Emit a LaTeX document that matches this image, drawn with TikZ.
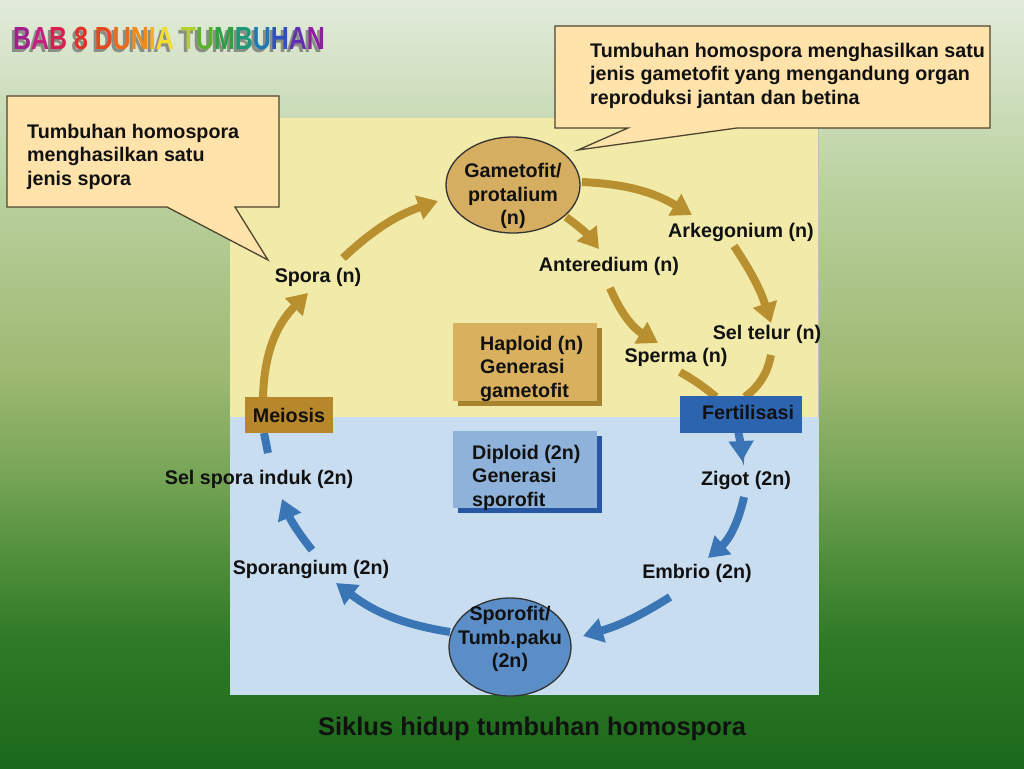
\documentclass[tikz,border=0pt]{standalone}
\usepackage{fontspec}
\usepackage{graphicx}
\setmainfont{Liberation Sans}
\usetikzlibrary{arrows.meta,shapes.geometric}
\definecolor{bgA}{HTML}{1B691B}
\definecolor{bgB}{HTML}{2F7A27}
\definecolor{bgC}{HTML}{4F8E3A}
\definecolor{bgD}{HTML}{78A658}
\definecolor{bgE}{HTML}{9CB870}
\definecolor{bgF}{HTML}{B8D09C}
\definecolor{bgG}{HTML}{E2EBDB}
\pgfdeclareverticalshading{bgshade}{100bp}{color(0bp)=(bgA); color(25bp)=(bgA); color(33.3bp)=(bgB); color(38.5bp)=(bgC); color(44.4bp)=(bgD); color(50.3bp)=(bgE); color(62bp)=(bgF); color(75bp)=(bgG); color(100bp)=(bgG)}
\definecolor{panelY}{HTML}{F1EAA9}
\definecolor{panelB}{HTML}{C9DDF0}
\definecolor{callfill}{HTML}{FFE3AA}
\definecolor{calldraw}{HTML}{4D4530}
\definecolor{goldarr}{HTML}{B8902F}
\definecolor{goldell}{HTML}{D5AE62}
\definecolor{haplo}{HTML}{D9B15E}
\definecolor{haploshadow}{HTML}{A7832F}
\definecolor{meio}{HTML}{B7872B}
\definecolor{bluearr}{HTML}{3A76B6}
\definecolor{fert}{HTML}{2D64B0}
\definecolor{diplo}{HTML}{8FB2DA}
\definecolor{diploshadow}{HTML}{2757A3}
\definecolor{sporo}{HTML}{5B8DC6}
\definecolor{txt}{HTML}{111111}
\definecolor{shad}{HTML}{8A8F86}
\definecolor{t1}{HTML}{A0208C}
\definecolor{t2}{HTML}{C42080}
\definecolor{t3}{HTML}{D82050}
\definecolor{t4}{HTML}{E03028}
\definecolor{t5}{HTML}{E44820}
\definecolor{t6}{HTML}{EA6A1E}
\definecolor{t7}{HTML}{F08C1C}
\definecolor{t8}{HTML}{F2B420}
\definecolor{t9}{HTML}{F0DE30}
\definecolor{t10}{HTML}{B4D030}
\definecolor{t11}{HTML}{5CB030}
\definecolor{t12}{HTML}{2EA040}
\definecolor{t13}{HTML}{1E9878}
\definecolor{t14}{HTML}{2078B4}
\definecolor{t15}{HTML}{3050C0}
\definecolor{t16}{HTML}{6030B0}
\definecolor{t17}{HTML}{8C20A0}
\begin{document}
\begin{tikzpicture}[x=1pt,y=-1pt,
  lbl/.style={font=\fontsize{19.7}{23.5}\selectfont\bfseries, text=txt, inner sep=0pt},
  blocktext/.style={lbl, align=left, anchor=north west},
  callout/.style={fill=callfill, draw=calldraw, line width=1.3pt, line join=miter},
  goldarrow/.style={draw=goldarr, line width=8pt, -{Triangle[width=24pt,length=20pt]}},
  goldline/.style={draw=goldarr, line width=8pt},
  bluearrow/.style={draw=bluearr, line width=8pt, -{Triangle[width=24pt,length=20pt]}},
  blueline/.style={draw=bluearr, line width=8pt},
  ell/.style={ellipse, draw=black!80, line width=1.3pt, inner sep=0pt},
  procbox/.style={inner sep=0pt}
]
\useasboundingbox (0,0) rectangle (1024,768);
\shade[shading=bgshade] (0,0) rectangle (1024,768);
% panel
\fill[panelY] (230,118) rectangle (819,417);
\fill[panelB] (230,417) rectangle (819,695);
\draw[color=black!25, line width=0.8pt] (818,118) -- (818,417);
% title (with its grey shadow in the same node)
\node[inner sep=0pt, font=\fontsize{32}{32}\selectfont\bfseries] (title) at (169,40) {\scalebox{0.78}[1]{\rlap{\hspace{-3.5pt}\raisebox{-3pt}{\textcolor{shad}{BAB 8 DUNIA TUMBUHAN}}}\textcolor{t1}{B}\textcolor{t2}{A}\textcolor{t3}{B} \textcolor{t4}{8} \textcolor{t5}{D}\textcolor{t6}{U}\textcolor{t7}{N}\textcolor{t8}{I}\textcolor{t9}{A} \textcolor{t10}{T}\textcolor{t11}{U}\textcolor{t12}{M}\textcolor{t13}{B}\textcolor{t14}{U}\textcolor{t15}{H}\textcolor{t16}{A}\textcolor{t17}{N}}};
% callouts
\draw[callout] (7,96) -- (279,96) -- (279,207) -- (235,207) -- (268,260) -- (167,207) -- (7,207) -- cycle;
\node[blocktext] (calltextL) at (27,124) {Tumbuhan homospora\\menghasilkan satu\\jenis spora};
\draw[callout] (555,26) -- (990,26) -- (990,128) -- (737,128) -- (578,150) -- (628,128) -- (555,128) -- cycle;
\node[blocktext] (calltextR) at (590,43) {Tumbuhan homospora menghasilkan satu\\jenis gametofit yang mengandung organ\\reproduksi jantan dan betina};
% info boxes
\fill[haploshadow] (458,328) rectangle (602,406);
\fill[haplo] (453,323) rectangle (597,401);
\node[blocktext] (haploid) at (480,336) {Haploid (n)\\Generasi\\gametofit};
\fill[diploshadow] (458,436) rectangle (602,513);
\fill[diplo] (453,431) rectangle (597,508);
\node[blocktext] (diploid) at (472,445) {Diploid (2n)\\Generasi\\sporofit};
% ellipses
\node[ell, fill=goldell, minimum width=134pt, minimum height=96pt] (gameto) at (513,185) {};
\node[lbl, align=center] (gametotext) at (513,196) {Gametofit/\\protalium\\(n)};
\node[ell, fill=sporo, minimum width=122pt, minimum height=98pt] (sporof) at (510,647) {};
\node[lbl, align=center] (sporotext) at (510,639) {Sporofit/\\Tumb.paku\\(2n)};
% labels
\node[lbl] (spora) at (318,277) {Spora (n)};
\node[lbl] (arkeg) at (741,232) {Arkegonium (n)};
\node[lbl] (anter) at (609,266) {Anteredium (n)};
\node[lbl] (seltelur) at (767,334) {Sel telur (n)};
\node[lbl] (sperma) at (676,357) {Sperma (n)};
\node[lbl] (selspora) at (259,479) {Sel spora induk (2n)};
\node[lbl] (zigot) at (746,480) {Zigot (2n)};
\node[lbl] (sporang) at (311,569) {Sporangium (2n)};
\node[lbl] (embrio) at (697,573) {Embrio (2n)};
\node[inner sep=0pt, text=txt, font=\fontsize{25.5}{30}\selectfont\bfseries] (caption) at (532,729) {Siklus hidup tumbuhan homospora};
% arrow end points
\coordinate (a1s) at (343,258); \coordinate (a1e) at (438,201);
\coordinate (a2s) at (263,399); \coordinate (a2e) at (308,293);
\coordinate (a3s) at (582,182); \coordinate (a3e) at (692,215);
\coordinate (a4s) at (566,217); \coordinate (a4e) at (599,249);
\coordinate (a5s) at (734,246); \coordinate (a5e) at (771,323);
\coordinate (a6s) at (610,288); \coordinate (a6e) at (658,343);
\coordinate (a7s) at (680,372); \coordinate (a7e) at (716,397);
\coordinate (a8s) at (771,355); \coordinate (a8e) at (745,397);
\coordinate (b1s) at (738,431); \coordinate (b1e) at (742,461);
\coordinate (b2s) at (744,497); \coordinate (b2e) at (708,558);
\coordinate (b3s) at (670,597); \coordinate (b3e) at (583,636);
\coordinate (b4s) at (450,632); \coordinate (b4e) at (336,583);
\coordinate (b5s) at (312,550); \coordinate (b5e) at (282,499);
\coordinate (b6s) at (268,453); \coordinate (b6e) at (264,433);
% gold arrows
\draw[goldarrow] (a1s) to[bend left=12] (a1e);
\draw[goldarrow] (a2s) to[bend left=22] (a2e);
\draw[goldarrow] (a3s) to[bend left=14] (a3e);
\draw[goldarrow] (a4s) to[bend left=8] (a4e);
\draw[goldarrow] (a5s) to[bend left=8] (a5e);
\draw[goldarrow] (a6s) to[bend right=18] (a6e);
\draw[goldline] (a7s) to[bend left=5] (a7e);
\draw[goldline] (a8s) to[bend left=20] (a8e);
% blue arrows
\draw[bluearrow] (b1s) to[bend left=5] (b1e);
\draw[bluearrow] (b2s) to[bend left=18] (b2e);
\draw[bluearrow] (b3s) to[bend left=8] (b3e);
\draw[bluearrow] (b4s) to[bend left=14] (b4e);
\draw[bluearrow] (b5s) to[bend left=8] (b5e);
\draw[blueline] (b6s) -- (b6e);
% process boxes
\node[procbox, fill=meio, minimum width=88pt, minimum height=36pt] (meiosisbox) at (289,415) {};
\node[lbl] (meiosis) at (289,415) {Meiosis};
\node[procbox, fill=fert, minimum width=122pt, minimum height=37pt] (fertbox) at (741,414) {};
\node[lbl] (fertil) at (748,412) {Fertilisasi};
\end{tikzpicture}
\end{document}
